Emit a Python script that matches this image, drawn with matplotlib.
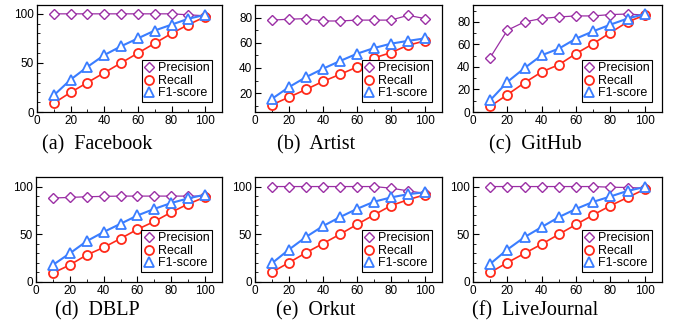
import matplotlib
matplotlib.use("Agg")
import matplotlib.pyplot as plt
from matplotlib.ticker import MultipleLocator

x = [10, 20, 30, 40, 50, 60, 70, 80, 90, 100]

titles = ["(a)  Facebook", "(b)  Artist", "(c)  GitHub",
          "(d)  DBLP", "(e)  Orkut", "(f)  LiveJournal"]

precision_facebook = [100, 100, 100, 100, 100, 100, 100, 100, 99, 98]
recall_facebook = [9, 20, 30, 40, 50, 60, 70, 80, 89, 97]
f1_facebook = [17, 33, 46, 58, 67, 75, 83, 89, 95, 99]

precision_artist = [78, 78.7, 79.2, 77.3, 77.3, 78, 78, 78, 81.8, 79.2]
recall_artist = [10.7, 16.8, 22.9, 29.3, 34.9, 40.7, 47.9, 52.2, 58, 61.5]
f1_artist = [15.5, 24.8, 32.7, 39.4, 45.5, 51.3, 55.8, 59.3, 61.5, 63.5]

precision_github = [48.3, 72.6, 80, 83, 84.4, 85.3, 85.3, 86.5, 87, 86]
recall_github = [5, 15.4, 26, 35.6, 42, 51.9, 60.7, 70.5, 80, 86]
f1_github = [10.4, 26.7, 39, 50.4, 56.3, 65.2, 71.7, 77.6, 83, 87]

precision_dblp = [88, 88.6, 89.3, 89.7, 90, 90, 90, 90, 90, 90]
recall_dblp = [9.3, 17.9, 28.3, 36.2, 45.5, 55.2, 63.4, 73.1, 81.7, 89]
f1_dblp = [17.9, 30, 42.8, 52.4, 61, 69.7, 76.6, 82.8, 87.6, 91.5]

precision_orkut = [100, 100, 100, 100, 100, 100, 100, 98.3, 95.5, 92.8]
recall_orkut = [10.3, 20.3, 30.7, 40.3, 50, 60.3, 70.3, 80, 86.2, 91.4]
f1_orkut = [19.7, 34, 47.2, 58.6, 68, 76.6, 84.1, 88.6, 92, 94]

precision_lj = [100, 100, 100, 100, 100, 100, 100, 99.3, 99, 98.3]
recall_lj = [10, 20.3, 30, 39.7, 50, 60.3, 70.3, 80, 88.6, 97.2]
f1_lj = [19, 34, 47, 57.6, 68, 76.6, 84, 89.6, 95.5, 99.5]

precisions = [precision_facebook, precision_artist, precision_github,
              precision_dblp, precision_orkut, precision_lj]
recalls = [recall_facebook, recall_artist, recall_github,
           recall_dblp, recall_orkut, recall_lj]
f1s = [f1_facebook, f1_artist, f1_github, f1_dblp, f1_orkut, f1_lj]

ylims = [(0, 109), (5, 90), (0, 95), (0, 110), (0, 110), (0, 110)]
ymajor = [50, 20, 20, 50, 50, 50]

plt.rcParams['font.family'] = ['Liberation Sans', 'DejaVu Sans']

fig = plt.figure(figsize=(6.78, 3.31), dpi=100)
W, H = 678, 331
boxes = [(37, 5, 222, 112), (255, 5, 442, 112), (473, 5, 662, 112),
         (36, 177, 222, 282), (255, 177, 442, 282), (473, 177, 662, 282)]
caption_pos = [(97, 145), (316, 145), (535, 145),
               (97, 311), (316, 311), (535, 311)]

purple = '#9B2FA5'
red = '#FF2A1A'
blue = '#3A7DFF'

for i in range(6):
    l, t, r, b = boxes[i]
    ax = fig.add_axes([l / W, 1 - b / H, (r - l) / W, (b - t) / H])
    ax.plot(x, precisions[i], color=purple, lw=0.9, marker='D', ms=5.3,
            mfc='white', mec=purple, mew=1.0, label='Precision', zorder=3)
    ax.plot(x, recalls[i], color=red, lw=1.2, marker='o', ms=6.5,
            mfc='white', mec=red, mew=1.3, label='Recall', zorder=4)
    ax.plot(x, f1s[i], color=blue, lw=1.5, marker='^', ms=7,
            mfc='white', mec=blue, mew=1.3, label='F1-score', zorder=5)
    ax.set_xlim(0, 110)
    ax.set_ylim(*ylims[i])
    ax.xaxis.set_major_locator(MultipleLocator(20))
    ax.xaxis.set_minor_locator(MultipleLocator(10))
    ax.yaxis.set_major_locator(MultipleLocator(ymajor[i]))
    ax.yaxis.set_minor_locator(MultipleLocator(10))
    ax.tick_params(which='both', direction='in', labelsize=8.5, pad=2)
    ax.tick_params(which='major', length=4, width=0.8)
    ax.tick_params(which='minor', length=2.5, width=0.6)
    for s in ax.spines.values():
        s.set_linewidth(0.9)
    leg = ax.legend(loc='lower right', fontsize=9, frameon=True,
                    fancybox=False, edgecolor='black', framealpha=1,
                    handlelength=0.8, handletextpad=0.3, borderpad=0.2,
                    labelspacing=0.05, borderaxespad=0.8)
    leg.get_frame().set_linewidth(0.8)
    for h in leg.get_lines():
        h.set_linestyle('none')
    cx, cy = caption_pos[i]
    fig.text(cx / W, 1 - cy / H, titles[i], ha='center', va='center',
             fontsize=14.5, family='Liberation Serif')

fig.savefig('out.png', dpi=100)
